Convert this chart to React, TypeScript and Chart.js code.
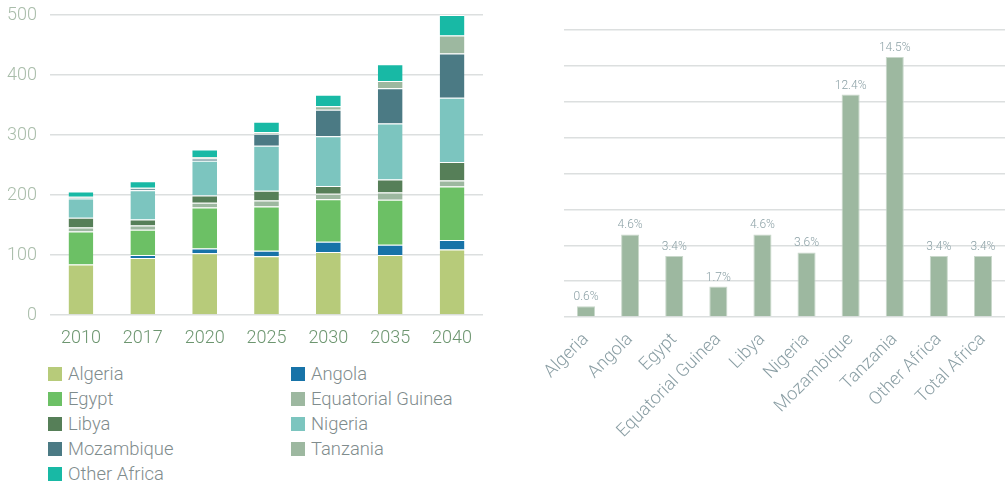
import React, { useEffect, useRef } from "react";
import { Chart, registerables } from "chart.js";

Chart.register(...registerables);

const years = ["2010", "2017", "2020", "2025", "2030", "2035", "2040"];
const seriesNames = [
  "Algeria",
  "Angola",
  "Egypt",
  "Equatorial Guinea",
  "Libya",
  "Nigeria",
  "Mozambique",
  "Tanzania",
  "Other Africa",
];
const algeria = [84, 95, 103, 98, 105, 100, 109];
const angola = [0, 5, 8, 9, 17, 17, 16];
const egypt = [55, 42, 68, 74, 71, 75, 89];
const eqGuinea = [7, 7, 8, 10, 9, 12, 10];
const libya = [16, 10, 12, 16, 13, 22, 31];
const nigeria = [32, 49, 58, 75, 83, 93, 107];
const mozambique = [2, 3, 4, 20, 44, 59, 74];
const tanzania = [1, 1, 2, 3, 6, 12, 30];
const otherAfrica = [9, 11, 13, 17, 19, 28, 34];
const seriesColors = [
  "#b7cb7a",
  "#1773a8",
  "#6cc065",
  "#9db8a0",
  "#567f58",
  "#7cc5bf",
  "#4b7a84",
  "#9db8a0",
  "#18b9a5",
];

const growthCategories = [
  "Algeria",
  "Angola",
  "Egypt",
  "Equatorial Guinea",
  "Libya",
  "Nigeria",
  "Mozambique",
  "Tanzania",
  "Other Africa",
  "Total Africa",
];
const growthValues = [0.6, 4.6, 3.4, 1.7, 4.6, 3.6, 12.4, 14.5, 3.4, 3.4];

const FONT = "Roboto";
const GRID = "#dcdfdf";

const valueLabelPlugin = {
  id: "valueLabels",
  afterDatasetsDraw(chart: any) {
    const ctx = chart.ctx;
    const meta = chart.getDatasetMeta(0);
    ctx.save();
    ctx.font = `300 12px ${FONT}`;
    ctx.fillStyle = "#8ca1a6";
    ctx.textAlign = "center";
    ctx.textBaseline = "middle";
    meta.data.forEach((el: any, i: number) => {
      const v = chart.data.datasets[0].data[i];
      ctx.fillText(v.toFixed(1) + "%", el.x, el.y - 9);
    });
    ctx.restore();
  },
};

export default function App() {
  const leftRef = useRef<HTMLCanvasElement>(null);
  const rightRef = useRef<HTMLCanvasElement>(null);

  useEffect(() => {
    const series = [
      algeria,
      angola,
      egypt,
      eqGuinea,
      libya,
      nigeria,
      mozambique,
      tanzania,
      otherAfrica,
    ];
    const left = new Chart(leftRef.current!, {
      type: "bar",
      data: {
        labels: years,
        datasets: series.map((d, i) => ({
          label: seriesNames[i],
          data: d,
          backgroundColor: seriesColors[i],
          borderColor: "#ffffff",
          borderWidth: { top: 1, bottom: 0, left: 0, right: 0 },
          barPercentage: 0.8,
          categoryPercentage: 0.5,
        })),
      },
      options: {
        animation: false,
        responsive: false,
        layout: { padding: { top: 15, right: 12, left: 0, bottom: 0 } },
        plugins: { legend: { display: false }, tooltip: { enabled: false } },
        scales: {
          x: {
            stacked: true,
            grid: { display: false },
            border: { display: false },
            ticks: {
              color: "#6d9670",
              font: { family: FONT, size: 18, weight: 300 as any },
              padding: 5,
            },
            afterFit: (s: any) => {
              s.height = 40;
              s.paddingLeft = 0;
              s.paddingRight = 0;
            },
          },
          y: {
            stacked: true,
            min: 0,
            max: 500,
            grid: { color: GRID, lineWidth: 1.5, drawTicks: false },
            border: { display: false },
            ticks: {
              stepSize: 100,
              color: "#a9bdaa",
              font: { family: FONT, size: 18, weight: 300 as any },
              padding: 13,
            },
            afterFit: (s: any) => {
              s.width = 50;
              s.paddingTop = 0;
              s.paddingBottom = 0;
            },
          },
        },
      },
    });

    const right = new Chart(rightRef.current!, {
      type: "bar",
      data: {
        labels: growthCategories,
        datasets: [
          {
            label: "Growth",
            data: growthValues,
            backgroundColor: "#9db8a0",
            borderColor: "#c9d8cb",
            borderWidth: 1,
            barPercentage: 0.82,
            categoryPercentage: 0.5,
          },
        ],
      },
      options: {
        animation: false,
        responsive: false,
        layout: { padding: { top: 30, right: 3, left: 0, bottom: 0 } },
        plugins: { legend: { display: false }, tooltip: { enabled: false } },
        scales: {
          x: {
            grid: { display: false },
            border: { display: false },
            ticks: {
              color: "#8a9ea4",
              font: { family: FONT, size: 18, weight: 300 as any },
              minRotation: 45,
              maxRotation: 45,
              padding: 4,
              autoSkip: false,
            },
            afterFit: (s: any) => {
              s.height = 168;
              s.paddingLeft = 0;
              s.paddingRight = 0;
            },
          },
          y: {
            min: 0,
            max: 16,
            grid: { color: GRID, lineWidth: 1.5, drawTicks: false },
            border: { display: false },
            ticks: { stepSize: 2, display: false },
            afterFit: (s: any) => {
              s.width = 24;
              s.paddingTop = 0;
              s.paddingBottom = 0;
            },
          },
        },
      },
      plugins: [valueLabelPlugin],
    });

    return () => {
      left.destroy();
      right.destroy();
    };
  }, []);

  const legendRows: number[][] = [];
  for (let i = 0; i < seriesNames.length; i += 2) {
    legendRows.push(i + 1 < seriesNames.length ? [i, i + 1] : [i]);
  }

  return (
    <div style={{ position: "absolute", left: 0, top: 0, width: 1008, height: 485, background: "#fff", fontFamily: FONT }}>
      <canvas ref={leftRef} width={495} height={355} style={{ position: "absolute", left: 0, top: 0 }} />
      <canvas ref={rightRef} width={468} height={485} style={{ position: "absolute", left: 540, top: 0 }} />
      {legendRows.map((row, r) =>
        row.map((idx, c) => (
          <div
            key={idx}
            style={{
              position: "absolute",
              left: c === 0 ? 48 : 291,
              top: 373.5 + r * 25 - 12,
              height: 24,
              display: "flex",
              alignItems: "center",
              fontSize: 18.4,
              fontWeight: 300,
              color: "#7f8c8d",
              whiteSpace: "nowrap",
            }}
          >
            <span style={{ display: "inline-block", width: 14, height: 14, background: seriesColors[idx], marginRight: 6 }} />
            <span>{seriesNames[idx]}</span>
          </div>
        ))
      )}
    </div>
  );
}
